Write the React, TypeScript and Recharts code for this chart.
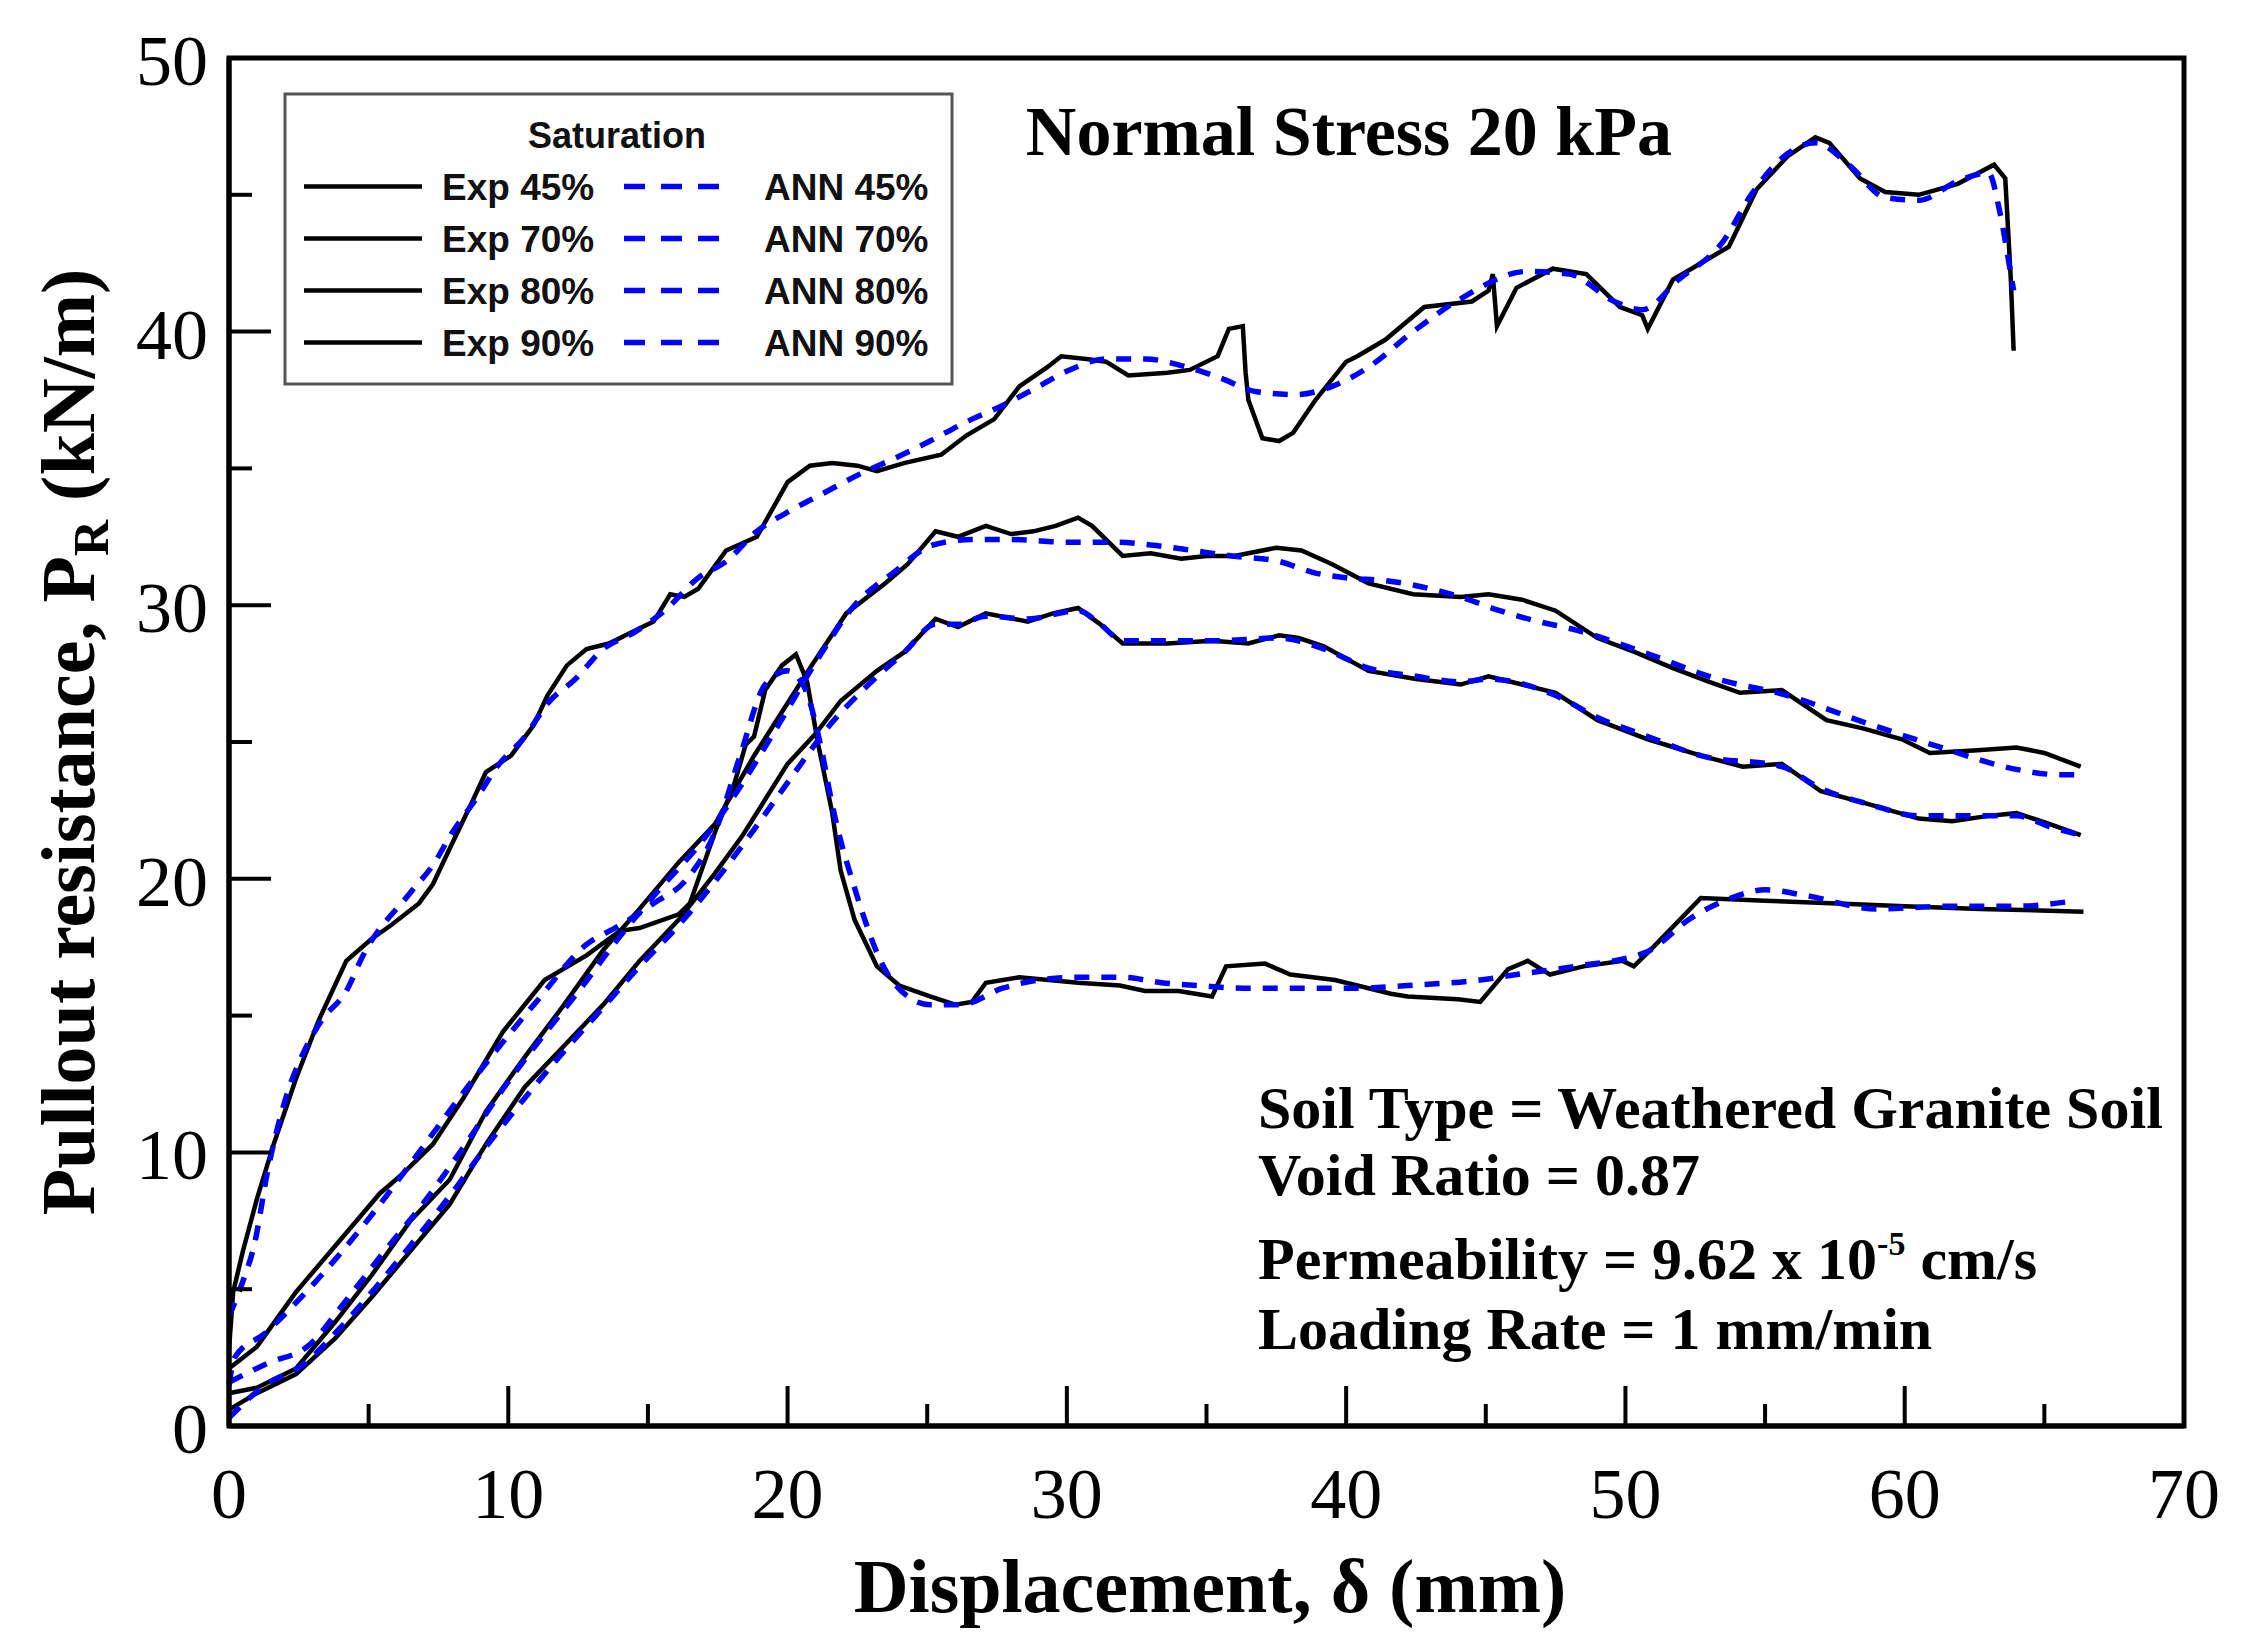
import React from 'react'
import { LineChart, Line, XAxis, YAxis } from 'recharts'

// chart geometry (plot box in page pixels)
const W = 2245
const H = 1648
const LEFT = 229
const RIGHT = 2184
const TOP = 58
const BOTTOM = 1426

const SERIF = "'Liberation Serif', 'Times New Roman', serif"
const SANS = "'Liberation Sans', Arial, sans-serif"

const xTicks = [0, 5, 10, 15, 20, 25, 30, 35, 40, 45, 50, 55, 60, 65, 70]
const yTicks = [0, 5, 10, 15, 20, 25, 30, 35, 40, 45, 50]
const saturations = ['45%', '70%', '80%', '90%']

// [displacement mm, pullout resistance kN/m]
const exp45: [number, number][] = [
  [0, 2.8], [0.15, 4.9], [0.5, 6.4], [1.0, 8.3], [1.6, 10.3], [2.4, 12.7], [3.2, 14.8], [4.2, 17.0],
  [5.1, 17.8], [5.8, 18.3], [6.8, 19.1], [7.3, 19.8], [7.9, 21.1], [8.7, 22.8], [9.2, 23.9], [10.1, 24.5],
  [10.9, 25.6], [11.4, 26.7], [12.1, 27.8], [12.8, 28.4], [13.6, 28.6], [14.4, 29.0], [15.2, 29.4], [15.8, 30.4],
  [16.3, 30.3], [16.8, 30.6], [17.8, 32.0], [18.9, 32.5], [20.0, 34.5], [20.8, 35.1], [21.6, 35.2], [22.5, 35.1],
  [23.2, 34.9], [24.2, 35.2], [25.5, 35.5], [26.4, 36.2], [27.4, 36.8], [28.3, 38.0], [29.3, 38.7], [29.8, 39.1],
  [30.7, 39.0], [31.4, 38.9], [32.2, 38.4], [33.6, 38.5], [34.4, 38.6], [35.4, 39.1], [35.8, 40.1], [36.3, 40.2],
  [36.4, 38.5], [36.5, 37.5], [37.0, 36.1], [37.6, 36.0], [38.1, 36.3], [38.9, 37.5], [40.0, 38.9], [40.4, 39.1],
  [41.4, 39.7], [42.8, 40.9], [44.5, 41.1], [45.1, 41.5], [45.25, 42.1], [45.4, 40.2], [46.1, 41.6], [47.4, 42.3],
  [48.6, 42.1], [49.8, 40.9], [50.6, 40.6], [50.8, 40.1], [51.7, 41.9], [52.7, 42.5], [53.7, 43.1], [54.7, 45.2],
  [55.8, 46.4], [56.8, 47.1], [57.3, 46.9], [58.4, 45.6], [59.3, 45.1], [60.5, 45.0], [61.9, 45.4], [63.2, 46.1],
  [63.6, 45.6], [63.8, 41.9], [63.9, 39.3],
]
const ann45: [number, number][] = [
  [0, 4.0], [0.5, 5.3], [0.9, 6.6], [1.4, 9.4], [2.1, 12.2], [2.6, 13.5], [3.3, 14.8], [4.2, 15.9],
  [4.8, 17.2], [6.5, 19.5], [7.3, 20.5], [8.0, 21.7], [8.9, 23.0], [9.6, 24.1], [10.6, 25.2], [11.4, 26.4],
  [12.4, 27.3], [13.4, 28.4], [14.5, 29.0], [15.6, 29.8], [16.8, 31.0], [17.8, 31.6], [18.9, 32.7], [20.0, 33.4],
  [21.3, 34.1], [22.6, 34.8], [23.9, 35.4], [25.1, 36.0], [26.4, 36.7], [27.7, 37.3], [29.0, 38.0], [30.1, 38.6],
  [31.4, 39.0], [32.8, 39.0], [34.3, 38.7], [35.5, 38.3], [36.8, 37.8], [38.2, 37.7], [39.5, 38.0], [40.8, 38.7],
  [42.4, 40.0], [44.1, 41.2], [46.5, 42.2], [48.0, 42.1], [49.6, 41.1], [50.6, 40.8], [51.9, 41.9], [53.5, 43.3],
  [54.5, 45.0], [55.8, 46.5], [56.8, 46.9], [58.0, 46.1], [59.3, 44.9], [60.5, 44.8], [61.9, 45.5], [63.0, 45.8],
  [63.4, 44.4], [63.8, 42.1], [63.9, 41.5],
]
const exp70: [number, number][] = [
  [0, 1.2], [1.0, 1.4], [2.4, 2.1], [3.8, 3.8], [5.1, 5.5], [6.5, 7.5], [7.9, 9.0], [9.2, 11.5],
  [10.6, 13.5], [12.0, 15.4], [13.4, 17.4], [14.7, 18.9], [16.1, 20.6], [17.4, 22.0], [18.8, 24.5], [20.3, 26.9],
  [20.8, 27.7], [22.1, 29.7], [23.5, 30.8], [24.3, 31.5], [25.3, 32.7], [26.1, 32.5], [27.1, 32.9], [28.0, 32.6],
  [28.8, 32.7], [29.6, 32.9], [30.4, 33.2], [30.9, 32.9], [32.0, 31.8], [33.0, 31.9], [34.1, 31.7], [35.0, 31.8],
  [36.0, 31.8], [37.5, 32.1], [38.4, 32.0], [39.5, 31.5], [40.8, 30.8], [42.4, 30.4], [44.1, 30.3], [45.1, 30.4],
  [46.3, 30.2], [47.5, 29.8], [49.0, 28.8], [50.3, 28.3], [51.7, 27.7], [53.0, 27.2], [54.1, 26.8], [55.6, 26.9],
  [57.2, 25.8], [58.5, 25.5], [59.9, 25.1], [60.9, 24.6], [62.6, 24.7], [64.0, 24.8], [65.0, 24.6], [66.3, 24.1],
]
const ann70: [number, number][] = [
  [0, 1.6], [1.4, 2.3], [2.8, 2.9], [4.2, 4.6], [5.5, 6.3], [7.0, 8.2], [8.4, 10.2], [9.8, 12.3],
  [11.2, 14.2], [12.6, 16.0], [14.0, 17.9], [15.4, 19.6], [16.8, 21.2], [18.2, 23.2], [19.6, 25.5], [21.0, 27.9],
  [22.4, 30.0], [23.8, 31.2], [25.2, 32.2], [26.6, 32.4], [28.0, 32.4], [30.1, 32.3], [31.9, 32.3], [33.0, 32.2],
  [34.5, 32.0], [35.9, 31.8], [37.6, 31.6], [38.8, 31.2], [40.0, 31.0], [41.4, 30.9], [44.1, 30.3], [45.5, 29.8],
  [46.9, 29.4], [48.2, 29.1], [50.6, 28.3], [53.3, 27.3], [55.8, 26.7], [58.6, 25.7], [61.3, 24.8], [64.0, 24.0],
  [65.6, 23.8], [66.3, 23.8],
]
const exp80: [number, number][] = [
  [0, 0.6], [1.0, 1.2], [2.4, 1.9], [3.8, 3.2], [5.1, 4.7], [6.5, 6.4], [7.9, 8.1], [9.2, 10.3],
  [10.6, 12.4], [12.0, 13.9], [13.4, 15.4], [14.7, 17.0], [16.1, 18.5], [17.4, 20.2], [18.4, 21.6], [20.0, 24.2],
  [21.0, 25.3], [21.9, 26.5], [23.2, 27.6], [24.2, 28.3], [25.3, 29.5], [26.1, 29.2], [27.1, 29.7], [28.6, 29.4],
  [29.5, 29.7], [30.4, 29.9], [31.2, 29.3], [32.0, 28.6], [33.6, 28.6], [35.2, 28.7], [36.5, 28.6], [37.6, 28.9],
  [38.3, 28.8], [39.2, 28.5], [40.8, 27.6], [42.5, 27.3], [44.1, 27.1], [45.1, 27.4], [46.3, 27.1], [47.5, 26.8],
  [49.0, 25.8], [50.8, 25.1], [52.7, 24.5], [54.2, 24.1], [55.6, 24.2], [57.0, 23.2], [58.8, 22.7], [60.5, 22.2],
  [61.7, 22.1], [63.0, 22.3], [64.0, 22.4], [65.2, 22.0], [66.3, 21.6],
]
const ann80: [number, number][] = [
  [0, 0.3], [1.3, 1.5], [2.6, 2.2], [3.9, 3.5], [5.2, 5.0], [6.5, 6.6], [7.9, 8.4], [9.2, 10.2],
  [10.6, 12.0], [12.0, 13.7], [13.4, 15.3], [14.7, 16.8], [16.1, 18.3], [17.4, 19.9], [18.8, 21.8], [20.2, 23.8],
  [21.5, 25.6], [22.8, 27.0], [24.2, 28.3], [25.3, 29.3], [26.1, 29.3], [27.1, 29.6], [28.6, 29.5], [30.4, 29.8],
  [31.2, 29.3], [32.0, 28.7], [33.6, 28.7], [35.2, 28.7], [37.6, 28.8], [39.2, 28.4], [40.8, 27.7], [42.5, 27.4],
  [44.1, 27.2], [45.1, 27.3], [47.5, 26.7], [49.0, 25.9], [50.8, 25.2], [52.7, 24.5], [55.6, 24.1], [57.0, 23.3],
  [58.8, 22.7], [60.5, 22.3], [63.0, 22.3], [64.0, 22.3], [65.2, 21.9], [66.3, 21.6],
]
const exp90: [number, number][] = [
  [0, 2.1], [1.0, 2.9], [2.4, 4.9], [4.15, 7.0], [5.4, 8.5], [6.2, 9.2], [7.3, 10.3], [8.4, 12.0],
  [9.8, 14.4], [11.3, 16.3], [12.8, 17.2], [14.0, 18.1], [14.7, 18.2], [16.1, 18.7], [16.5, 19.1], [17.4, 21.7],
  [18.1, 23.5], [18.5, 24.9], [18.8, 25.2], [19.2, 26.9], [19.8, 27.8], [20.3, 28.2], [20.7, 27.2], [21.1, 24.9],
  [21.6, 22.4], [21.9, 20.3], [22.4, 18.5], [23.2, 16.8], [24.0, 16.1], [25.1, 15.7], [26.0, 15.4], [26.6, 15.5],
  [27.1, 16.2], [28.3, 16.4], [30.4, 16.2], [31.9, 16.1], [32.8, 15.9], [34.0, 15.9], [35.2, 15.7], [35.7, 16.8],
  [37.1, 16.9], [38.0, 16.5], [39.6, 16.3], [41.6, 15.8], [42.2, 15.7], [44.0, 15.6], [44.8, 15.5], [45.8, 16.7],
  [46.5, 17.0], [47.3, 16.5], [48.5, 16.8], [49.9, 17.0], [50.3, 16.8], [50.9, 17.4], [52.7, 19.3], [55.0, 19.2],
  [57.6, 19.1], [60.0, 19.0], [62.7, 18.9], [66.4, 18.8],
]
const ann90: [number, number][] = [
  [0, 1.5], [0.2, 2.5], [1.3, 3.4], [2.3, 4.4], [3.3, 5.5], [5.1, 7.7], [6.8, 10.0], [8.4, 12.2],
  [10.1, 14.4], [11.0, 15.5], [12.8, 17.6], [14.0, 18.3], [15.2, 19.1], [16.4, 20.0], [17.4, 21.7], [18.3, 24.5],
  [19.2, 27.1], [20.0, 27.6], [20.6, 27.0], [21.2, 24.8], [21.6, 22.7], [21.9, 21.4], [22.3, 20.0], [22.7, 18.7],
  [23.2, 17.3], [23.8, 16.2], [25.1, 15.4], [26.2, 15.4], [27.7, 16.0], [29.0, 16.3], [30.4, 16.4], [32.0, 16.4],
  [33.4, 16.2], [34.7, 16.1], [36.3, 16.0], [37.6, 16.0], [39.0, 16.0], [40.4, 16.0], [42.2, 16.1], [44.8, 16.3],
  [46.1, 16.5], [48.2, 16.8], [50.7, 17.3], [52.4, 18.6], [53.8, 19.3], [55.0, 19.6], [56.4, 19.4], [59.0, 18.9],
  [61.6, 19.0], [64.1, 19.0], [66.1, 19.2],
]

const toPoints = (pairs: [number, number][]) => pairs.map(([d, p]) => ({ d, p }))

const expSeries = [exp45, exp70, exp80, exp90]
const annSeries = [ann45, ann70, ann80, ann90]

const BLUE = '#0000ff'
const DASH = '15 12'

const XTick = ({ x, payload }: any) => {
  const major = payload.value % 10 === 0
  return (
    <g>
      <line x1={x} x2={x} y1={BOTTOM} y2={BOTTOM - (major ? 40 : 22)} stroke="#000" strokeWidth={4} />
      {major && (
        <text x={x} y={1518} textAnchor="middle" fontFamily={SERIF} fontSize={72} fill="#000">
          {payload.value}
        </text>
      )}
    </g>
  )
}

const YTick = ({ y, payload }: any) => {
  const major = payload.value % 10 === 0
  return (
    <g>
      <line x1={LEFT} x2={LEFT + (major ? 42 : 23)} y1={y} y2={y} stroke="#000" strokeWidth={4} />
      {major && (
        <text x={208} y={y + 27} textAnchor="end" fontFamily={SERIF} fontSize={72} fill="#000">
          {payload.value}
        </text>
      )}
    </g>
  )
}

const LegendBox = () => {
  const boxX = 285
  const boxY = 94
  return (
    <g>
      <rect x={boxX} y={boxY} width={667} height={290} fill="#fff" stroke="#555" strokeWidth={3} />
      <text x={617} y={148} textAnchor="middle" fontFamily={SANS} fontWeight="bold" fontSize={36} fill="#111">
        Saturation
      </text>
      {saturations.map((s, i) => {
        const cy = 186.5 + i * 52
        return (
          <g key={s}>
            <line x1={304} x2={422} y1={cy} y2={cy} stroke="#000" strokeWidth={4.5} />
            <text x={442} y={cy + 13.5} fontFamily={SANS} fontWeight="bold" fontSize={37} fill="#111">
              Exp {s}
            </text>
            <line x1={624} x2={719} y1={cy} y2={cy} stroke={BLUE} strokeWidth={5.5} strokeDasharray="21 16" />
            <text x={764} y={cy + 13.5} fontFamily={SANS} fontWeight="bold" fontSize={37} fill="#111">
              ANN {s}
            </text>
          </g>
        )
      })}
    </g>
  )
}

const Annotations = () => (
  <g fontFamily={SERIF} fontWeight="bold" fill="#000">
    <text x={1672} y={155} textAnchor="end" fontSize={70}>Normal Stress 20 kPa</text>
    <text x={1258} y={1128} fontSize={60}>Soil Type = Weathered Granite Soil</text>
    <text x={1258} y={1195} fontSize={60}>Void Ratio = 0.87</text>
    <text x={1258} y={1279} fontSize={60}>
      Permeability = 9.62 x 10
      <tspan fontSize={34} dy={-24}>-5</tspan>
      <tspan fontSize={60} dy={24}> cm/s</tspan>
    </text>
    <text x={1258} y={1349} fontSize={60}>Loading Rate = 1 mm/min</text>
    <text x={1210} y={1612} textAnchor="middle" fontSize={76}>Displacement, δ (mm)</text>
    <text transform={`translate(94, 742) rotate(-90)`} textAnchor="middle" fontSize={76}>
      Pullout resistance, P
      <tspan fontSize={50} dy={14}>R</tspan>
      <tspan fontSize={76} dy={-14}> (kN/m)</tspan>
    </text>
  </g>
)

const App = () => {
  return (
    <div style={{ position: 'absolute', left: 0, top: 0, width: W, height: H, background: '#fff' }}>
      <LineChart
        width={W}
        height={H}
        margin={{ top: TOP, right: W - RIGHT, bottom: 122, left: LEFT - 150 }}
      >
        <XAxis
          dataKey="d"
          type="number"
          domain={[0, 70]}
          ticks={xTicks}
          interval={0}
          height={100}
          axisLine={{ stroke: '#000', strokeWidth: 5 }}
          tickLine={false}
          tick={<XTick />}
        />
        <YAxis
          type="number"
          domain={[0, 50]}
          ticks={yTicks}
          interval={0}
          width={150}
          axisLine={{ stroke: '#000', strokeWidth: 5 }}
          tickLine={false}
          tick={<YTick />}
        />
        {expSeries.map((s, i) => (
          <Line
            key={'exp' + i}
            data={toPoints(s)}
            dataKey="p"
            name={'Exp ' + saturations[i]}
            type="linear"
            stroke="#000"
            strokeWidth={4.5}
            dot={false}
            isAnimationActive={false}
          />
        ))}
        {annSeries.map((s, i) => (
          <Line
            key={'ann' + i}
            data={toPoints(s)}
            dataKey="p"
            name={'ANN ' + saturations[i]}
            type="monotone"
            stroke={BLUE}
            strokeWidth={5.5}
            strokeDasharray={DASH}
            dot={false}
            isAnimationActive={false}
          />
        ))}
      </LineChart>
      <svg width={W} height={H} style={{ position: 'absolute', left: 0, top: 0, pointerEvents: 'none' }}>
        <rect x={LEFT} y={TOP} width={RIGHT - LEFT} height={BOTTOM - TOP} fill="none" stroke="#000" strokeWidth={5} />
        <LegendBox />
        <Annotations />
      </svg>
    </div>
  )
}

export default App
